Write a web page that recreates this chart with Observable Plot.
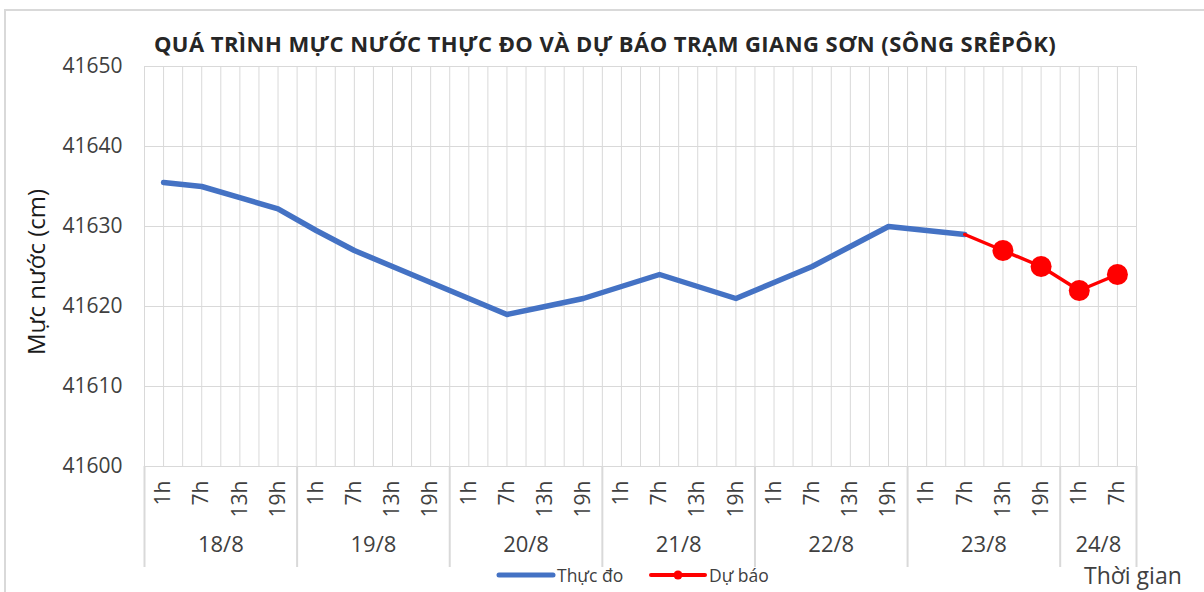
<!DOCTYPE html>
<html><head><meta charset="utf-8">
<script src="https://cdn.jsdelivr.net/npm/d3@7"></script>
<script src="https://cdn.jsdelivr.net/npm/@observablehq/plot@0.6"></script>
<style>
html,body{margin:0;padding:0;background:#fff;overflow:hidden;}
#wrap{position:relative;width:1204px;height:592px;font-family:"Open Sans",sans-serif;overflow:hidden;}
#frame{position:absolute;left:4px;top:9px;width:1400px;height:800px;border:2px solid #d9d9d9;box-sizing:border-box;}
#chart{position:absolute;left:0;top:0;}
#title{position:absolute;left:0;width:1210px;top:28px;text-align:center;font-weight:bold;font-size:22px;letter-spacing:0.45px;color:#262626;white-space:nowrap;}
#ylab{position:absolute;left:35px;top:272px;transform:translate(-50%,-50%) rotate(-90deg);font-size:24px;color:#1a1a1a;white-space:nowrap;}
#xlab{position:absolute;left:1084px;top:559px;font-size:23px;color:#404040;white-space:nowrap;}
.leg{position:absolute;top:563px;font-size:17.5px;color:#404040;display:flex;align-items:center;white-space:nowrap;}
.leg svg{margin-right:1px;}
</style>
</head><body>
<div id="wrap">
  <div id="frame"></div>
  <div id="chart"></div>
  <div id="title">QUÁ TRÌNH MỰC NƯỚC THỰC ĐO VÀ DỰ BÁO TRẠM GIANG SƠN (SÔNG SRÊPÔK)</div>
  <div id="ylab">Mực nước (cm)</div>
  <div id="xlab">Thời gian</div>
  <div class="leg" style="left:496px"><svg width="60" height="10"><line x1="3" y1="5" x2="57" y2="5" stroke="#4472C4" stroke-width="5" stroke-linecap="round"/></svg>Thực đo</div>
  <div class="leg" style="left:648px"><svg width="60" height="10"><line x1="3" y1="5" x2="57" y2="5" stroke="#ff0000" stroke-width="4" stroke-linecap="round"/><circle cx="30" cy="5" r="4.5" fill="#ff0000"/></svg>Dự báo</div>
</div>
<script>
const hours = ["1h","7h","13h","19h","1h","7h","13h","19h","1h","7h","13h","19h","1h","7h","13h","19h","1h","7h","13h","19h","1h","7h","13h","19h","1h","7h"];
const days = ["18/8","19/8","20/8","21/8","22/8","23/8","24/8"];
const dayCounts = [4,4,4,4,4,4,2];
const yTicks = [41600,41610,41620,41630,41640,41650];
// Observed (Thực đo): indices 0..21
const observed = [41635.5,41635,41633.6,41632.2,41629.5,41627,41625,41623,41621,41619,41620,41621,41622.5,41624,41622.5,41621,41623,41625,41627.5,41630,41629.5,41629];
// Forecast (Dự báo): starts at index 21
const forecastStart = 21;
const forecast = [41629,41627,41625,41622,41624];

const n = hours.length;
const obs = observed.map((v,i)=>({i, v}));
const fc = forecast.map((v,k)=>({i: forecastStart + k, v}));
const starts = [];
{ let s = 0; for (const c of dayCounts) { starts.push(s); s += c; } }
const dayCenters = starts.map((s,k)=> s + (dayCounts[k]-1)/2);
const boundaries = starts.map(s => s - 0.5).concat([n - 0.5]);
const vgrid = d3.range(-0.5, n - 0.5 + 0.01, 0.5);
const idx = d3.range(n);

const chart = Plot.plot({
  width: 1204, height: 592,
  marginTop: 66, marginBottom: 126, marginLeft: 144, marginRight: 68,
  x: {domain: [-0.5, n - 0.5], axis: null},
  y: {domain: [41600, 41650], axis: null},
  style: {fontFamily: "Open Sans", color: "#404040", background: "transparent", overflow: "visible"},
  marks: [
    Plot.ruleX(vgrid, {stroke: "#d9d9d9", strokeWidth: 1}),
    Plot.ruleY(yTicks, {stroke: "#d9d9d9", strokeWidth: 1.2}),
    Plot.axisX(boundaries, {tickSize: 101, tickFormat: () => "", stroke: "#d9d9d9", strokeWidth: 2, label: null}),
    Plot.axisX(idx, {tickFormat: i => hours[i], tickRotate: -90, tickSize: 0, tickPadding: 14, fontSize: 21, label: null}),
    Plot.axisX(dayCenters, {tickFormat: d => days[dayCenters.indexOf(d)], tickSize: 0, tickPadding: 70, fontSize: 22, label: null}),
    Plot.axisY(yTicks, {tickFormat: d => String(d), tickSize: 0, tickPadding: 22, fontSize: 21, label: null}),
    Plot.line(obs, {x: "i", y: "v", stroke: "#4472C4", strokeWidth: 5.5}),
    Plot.line(fc, {x: "i", y: "v", stroke: "#ff0000", strokeWidth: 3.5}),
    Plot.dot(fc.slice(1), {x: "i", y: "v", r: 10.5, fill: "#ff0000"})
  ]
});
document.getElementById("chart").appendChild(chart);
</script>
</body></html>
